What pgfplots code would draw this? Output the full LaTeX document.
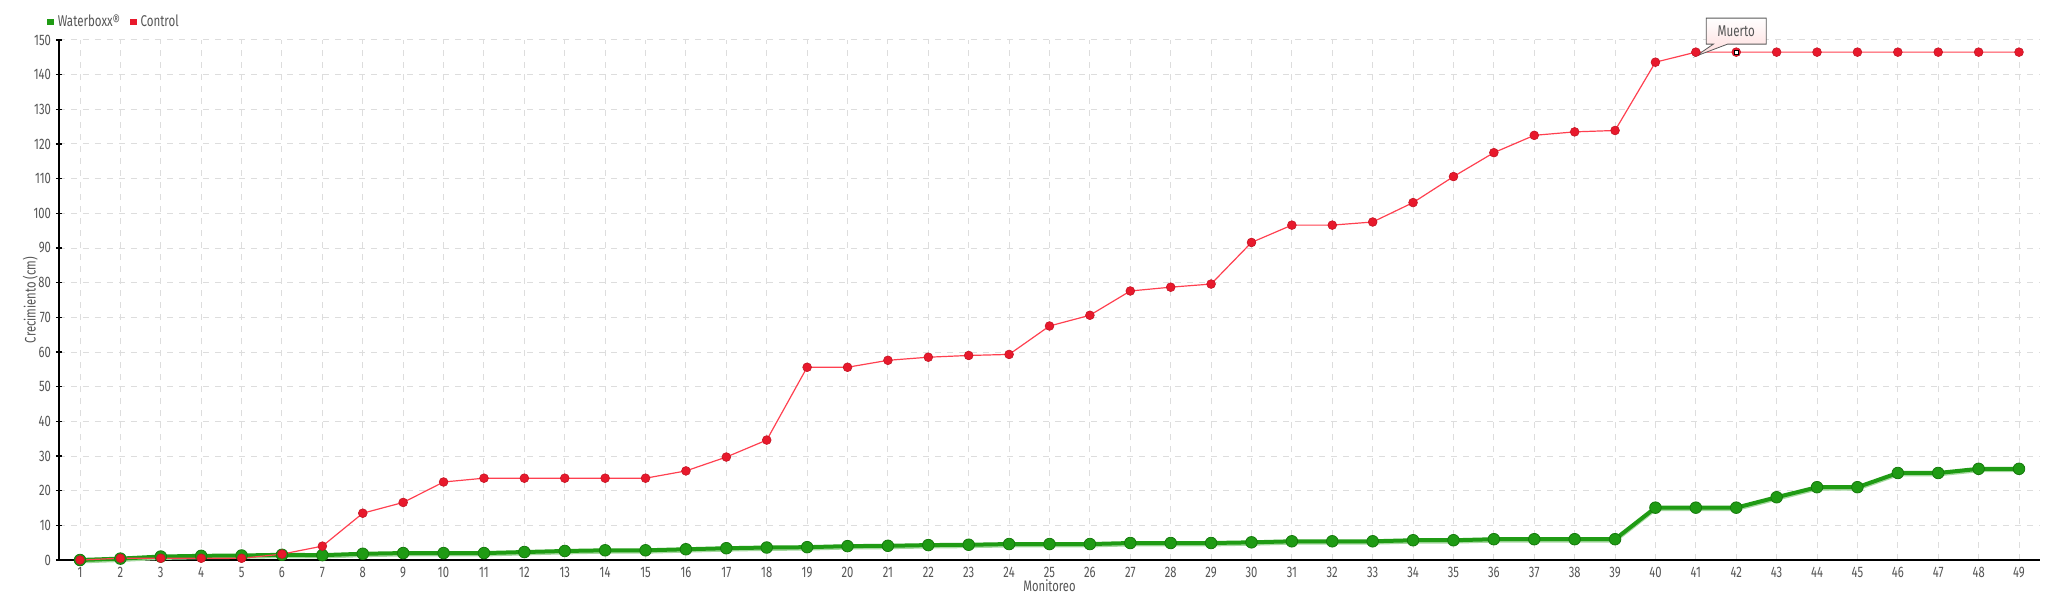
\documentclass[border=0pt]{standalone}
\usepackage{pgfplots}
\pgfplotsset{compat=1.18}
\usepackage{pgfplotstable}
\usepackage{fontspec}
\setmainfont[FakeStretch=0.74]{Fira Sans}
\usetikzlibrary{shapes.callouts}
\definecolor{txt}{HTML}{555555}
\definecolor{gline}{HTML}{1EA010}
\definecolor{gfill}{HTML}{1F9B14}
\definecolor{gedge}{HTML}{157A0C}
\definecolor{rline}{HTML}{FF4050}
\definecolor{rfill}{HTML}{E8192C}
\definecolor{gridc}{HTML}{DDDDDD}

\pgfplotstableread{
x y
1 0
2 0.4
3 1.0
4 1.2
5 1.3
6 1.5
7 1.4
8 1.8
9 2.0
10 2.0
11 2.0
12 2.3
13 2.6
14 2.8
15 2.8
16 3.1
17 3.4
18 3.6
19 3.7
20 4.0
21 4.1
22 4.3
23 4.4
24 4.6
25 4.6
26 4.6
27 4.9
28 4.9
29 4.9
30 5.1
31 5.4
32 5.4
33 5.4
34 5.7
35 5.7
36 6.0
37 6.0
38 6.0
39 6.0
40 15.1
41 15.1
42 15.1
43 18.1
44 21.0
45 21.0
46 25.1
47 25.1
48 26.3
49 26.3
}\waterboxx

\pgfplotstableread{
x y
1 0
2 0.5
3 0.5
4 0.5
5 0.5
6 1.7
7 4.0
8 13.5
9 16.6
10 22.5
11 23.6
12 23.6
13 23.6
14 23.6
15 23.6
16 25.7
17 29.7
18 34.6
19 55.6
20 55.6
21 57.6
22 58.5
23 59.0
24 59.3
25 67.5
26 70.6
27 77.6
28 78.7
29 79.6
30 91.6
31 96.6
32 96.6
33 97.5
34 103.1
35 110.6
36 117.5
37 122.5
38 123.5
39 123.9
40 143.6
41 146.5
42 146.5
43 146.5
44 146.5
45 146.5
46 146.5
47 146.5
48 146.5
49 146.5
}\control

\begin{document}
\begin{tikzpicture}
\begin{axis}[
  scale only axis,
  width=990.5pt, height=260pt,
  xmin=0.48, xmax=49.52,
  ymin=0, ymax=150,
  xtick={1,...,49},
  ytick={0,10,...,150},
  axis x line=bottom, axis y line=left,
  axis line style={-, black, line width=0.75pt},
  grid=major,
  major grid style={gridc, dashed, line width=0.5pt},
  xtick style={draw=none},
  ytick style={black, line width=0.6pt},
  major tick length=3pt,
  tick label style={txt, font=\fontsize{7.6}{8}\selectfont},
  /pgf/number format/assume math mode=true,
  xticklabel style={anchor=base, yshift=-7pt},
  yticklabel style={xshift=1pt},
  xlabel={Monitoreo},
  ylabel={Crecimiento (cm)},
  label style={txt, font=\fontsize{7.6}{8}\selectfont},
  xlabel style={at={(axis description cs:0.5,0)}, anchor=base, yshift=-15.5pt, inner sep=0pt},
  ylabel style={yshift=-9pt},
  clip=false,
  legend columns=-1,
  legend style={draw=none, fill=none, at={(0,1)}, anchor=south west,
    xshift=-6pt, yshift=3pt, font=\fontsize{7.8}{9}\selectfont, text=txt,
    /tikz/every even column/.append style={column sep=3pt},
    inner sep=0pt},
  legend image code/.code={\fill[#1,draw=none] (0pt,-1.6pt) rectangle (3.2pt,1.6pt);},
]
\addplot[gline!40, line width=1.8pt, yshift=-0.8pt, forget plot] table {\waterboxx};
\addplot[color=gfill, line width=2pt, mark=*, mark size=2.9pt,
  mark options={fill=gfill, draw=gedge, line width=0.4pt}] table {\waterboxx};
\addlegendentry{Waterboxx®}
\addplot[color=rfill, draw=rline, line width=0.6pt, mark=*, mark size=2.2pt,
  mark options={fill=rfill, draw=rfill!85!black, line width=0.3pt}] table {\control};
\addlegendentry{Control}
\addplot[only marks, mark=square*, mark size=1pt, mark options={fill=white, draw=black, line width=0.5pt}, forget plot]
  coordinates {(42,146.5)};
\node[rectangle callout, callout relative pointer={(0,-6pt)}, draw=gray!70!black, line width=0.4pt,
  top color=white, bottom color=red!14, minimum width=30pt, minimum height=13pt,
  inner sep=1pt, font=\fontsize{7.8}{9}\selectfont, text=txt]
  at ([yshift=10.5pt]axis cs:42,146.5) {Muerto};
\end{axis}
\pgfresetboundingbox
\path[use as bounding box] (-29.5pt,-20pt) rectangle (1000.5pt,280pt);
\end{tikzpicture}
\end{document}
